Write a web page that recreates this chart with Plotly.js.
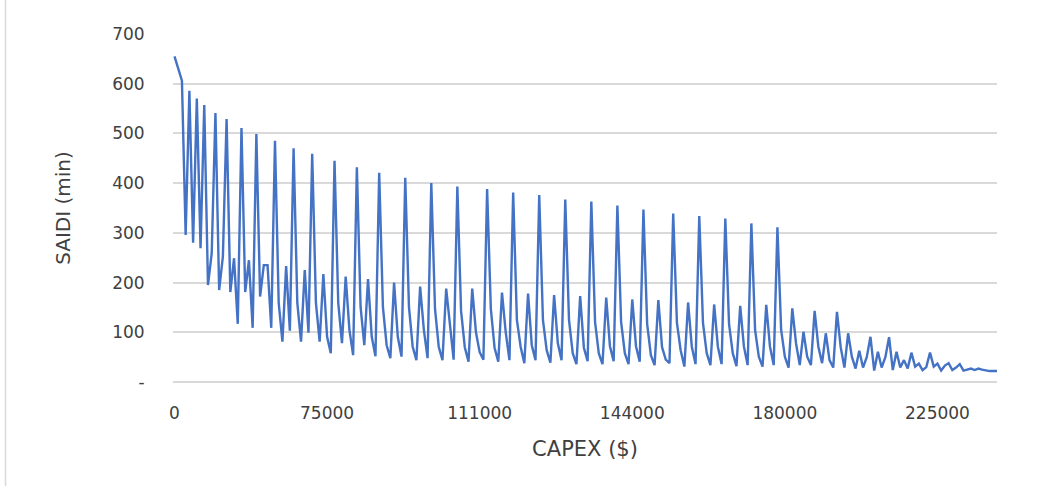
<!DOCTYPE html>
<html>
<head>
<meta charset="utf-8">
<script src="https://cdn.plot.ly/plotly-3.0.1.min.js"></script>
<style>
  html, body { margin: 0; padding: 0; background: #ffffff; }
  #chart { width: 1053px; height: 486px; }
</style>
</head>
<body>
<div id="chart"></div>
<script>
// X-axis category labels (CAPEX, $) and the category index each label sits on
const capexLabels = ['0', '75000', '111000', '144000', '180000', '225000'];
const capexLabelIndex = [0, 41, 82, 123, 164, 205];

// Y-axis tick values and their printed text
const saidiTicks = [0, 100, 200, 300, 400, 500, 600, 700];
const saidiTickText = ['-', '100', '200', '300', '400', '500', '600', '700'];

// SAIDI (min) for each CAPEX step
const saidi = [
  655, 628, 606, 296, 586, 280, 570, 269, 557, 195, 259, 541, 185, 252, 529, 181,
  249, 117, 511, 181, 245, 109, 499, 172, 235, 235, 109, 485, 159, 81, 233, 103,
  470, 159, 81, 225, 99, 459, 159, 81, 217, 91, 58, 445,
  159, 78, 212, 105, 54, 432,
  151, 74, 207, 91, 52, 421,
  151, 74, 48, 200, 91, 51, 411,
  151, 71, 44, 192, 105, 48, 400,
  147, 71, 44, 188, 111, 45, 393,
  143, 70, 41, 188, 100, 60, 45, 388,
  147, 69, 41, 180, 100, 44, 381,
  125, 71, 38, 178, 74, 44, 376,
  125, 64, 39, 175, 78, 44, 367,
  125, 58, 36, 173, 69, 42, 363,
  121, 58, 36, 170, 72, 42, 355,
  121, 58, 36, 166, 72, 41, 347,
  117, 54, 34, 165, 70, 45, 38, 339,
  119, 64, 31, 160, 71, 36, 334,
  119, 58, 34, 156, 71, 36, 329,
  117, 58, 32, 153, 71, 34, 319,
  105, 51, 31, 155, 71, 34, 311,
  105, 51, 29, 148, 78, 34, 101, 51, 34, 143, 71, 38, 98, 44, 29, 141,
  70, 29, 98, 51, 27, 63, 29, 50, 91, 23, 61, 29, 50, 90, 24, 61,
  29, 44, 27, 59, 31, 37, 24, 30, 59, 31, 37, 23, 33, 38, 24, 29,
  36, 23, 25, 27, 24, 27, 25, 23, 22, 22, 22
];

const step = saidi.map((_, i) => i);

const W = 1053, H = 486;
const M = { l: 173, r: 56, t: 34, b: 104 };
const pw = W - M.l - M.r, ph = H - M.t - M.b;
const font = 'DejaVu Sans, Verdana, sans-serif';
const textColor = '#404040';

const trace = {
  x: step,
  y: saidi,
  type: 'scatter',
  mode: 'lines',
  line: { color: '#4472C4', width: 2.4 },
  hoverinfo: 'skip'
};

const layout = {
  width: W,
  height: H,
  margin: M,
  paper_bgcolor: '#ffffff',
  plot_bgcolor: '#ffffff',
  showlegend: false,
  font: { family: font, color: textColor, size: 17 },
  xaxis: {
    range: [-0.4, saidi.length - 1],
    tickmode: 'array',
    tickvals: capexLabelIndex,
    ticktext: capexLabels,
    showgrid: false,
    zeroline: false,
    showline: false,
    ticks: 'outside',
    ticklen: 16,
    tickcolor: 'rgba(0,0,0,0)',
    tickfont: { family: font, size: 17, color: textColor },
    title: { text: 'CAPEX ($)', font: { family: font, size: 21, color: textColor }, standoff: 18 },
    fixedrange: true
  },
  yaxis: {
    range: [0, 700],
    tickmode: 'array',
    tickvals: saidiTicks,
    ticktext: saidiTickText,
    showgrid: true,
    gridcolor: '#d9d9d9',
    gridwidth: 2,
    zeroline: true,
    zerolinecolor: '#d9d9d9',
    zerolinewidth: 2,
    showline: false,
    ticks: 'outside',
    ticklen: 24,
    tickcolor: 'rgba(0,0,0,0)',
    tickfont: { family: font, size: 17, color: textColor },
    title: { text: 'SAIDI (min)', font: { family: font, size: 20, color: textColor }, standoff: 36 },
    fixedrange: true
  },
  shapes: [
    {
      type: 'line', xref: 'paper', yref: 'paper',
      x0: (5.5 - M.l) / pw, x1: (5.5 - M.l) / pw,
      y0: -M.b / ph, y1: (ph + M.t) / ph,
      line: { color: '#d9d9d9', width: 1.5 }
    }
  ]
};

Plotly.newPlot('chart', [trace], layout, { displayModeBar: false, staticPlot: true });
</script>
</body>
</html>
